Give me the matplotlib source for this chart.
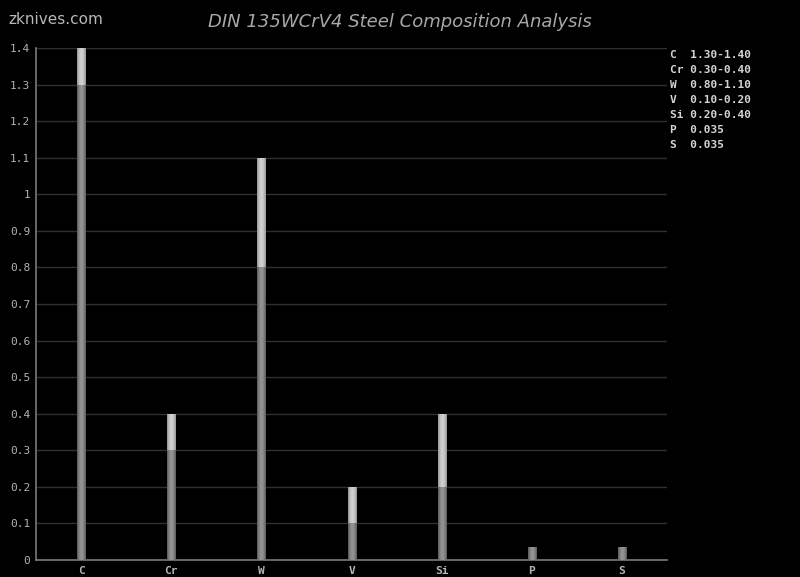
import matplotlib
matplotlib.use("Agg")
import matplotlib.pyplot as plt
import numpy as np
from matplotlib.patches import Rectangle

elements = ["C", "Cr", "W", "V", "Si", "P", "S"]
min_pct = [1.30, 0.30, 0.80, 0.10, 0.20, None, None]
max_pct = [1.40, 0.40, 1.10, 0.20, 0.40, 0.035, 0.035]
range_text = ["1.30-1.40", "0.30-0.40", "0.80-1.10", "0.10-0.20",
              "0.20-0.40", "0.035", "0.035"]
yticks = [0, 0.1, 0.2, 0.3, 0.4, 0.5, 0.6, 0.7, 0.8, 0.9, 1, 1.1, 1.2, 1.3, 1.4]

MONO = "DejaVu Sans Mono"
GREY = "#b4b4b4"

# horizontal shading profile for the "cylinder" bars
prof = np.abs(np.linspace(-1, 1, 64))
shade = (1 - prof ** 2)[None, :]


def grad_bar(ax, x0, y0, w, h, lo, hi):
    """Bar filled with a grey left-right gradient from lo (edge) to hi (center)."""
    img = np.empty((1, 64, 3))
    for i in range(3):
        img[..., i] = lo + (hi - lo) * shade
    rect = Rectangle((x0, y0), w, h, facecolor="none", edgecolor="none")
    ax.add_patch(rect)
    im = ax.imshow(img, extent=(x0, x0 + w, y0, y0 + h), aspect="auto",
                   interpolation="bicubic", zorder=3)
    im.set_clip_path(rect)


fig = plt.figure(figsize=(8, 5.77), dpi=100, facecolor="black")
ax = fig.add_axes([0.045, 0.0295, 0.789, 0.8873], facecolor="black")

width = 0.09
for i, (lo, hi) in enumerate(zip(min_pct, max_pct)):
    x0 = i + 0.5 - width / 2
    if lo is None:
        grad_bar(ax, x0, 0, width, hi, 0.33, 0.58)
    else:
        grad_bar(ax, x0, 0, width, lo, 0.33, 0.58)
        grad_bar(ax, x0, lo, width, hi - lo, 0.56, 0.82)

ax.set_xlim(0, len(elements))
ax.set_ylim(0, 1.4)
ax.set_xticks(np.arange(len(elements)) + 0.5)
ax.set_xticklabels(elements, family=MONO, fontsize=8, color=GREY,
                   fontweight="bold")
ax.set_yticks(yticks)
ax.set_yticklabels([f"{t:g}" for t in yticks], family=MONO, fontsize=8, color=GREY)
ax.tick_params(length=0, pad=4)
ax.grid(axis="y", color="#303030", linewidth=1)
ax.set_axisbelow(True)
for side in ("top", "right"):
    ax.spines[side].set_visible(False)
for side in ("left", "bottom"):
    ax.spines[side].set_color("#7a7a7a")
    ax.spines[side].set_linewidth(1.2)

fig.text(0.5, 0.962, "DIN 135WCrV4 Steel Composition Analysis", ha="center",
         va="center", fontsize=13, style="italic", color="#a8a8a8",
         family="DejaVu Sans")
fig.text(0.01, 0.966, "zknives.com", ha="left", va="center", fontsize=11,
         color="#b8b8b8", family="DejaVu Sans")

for k, (el, txt) in enumerate(zip(elements, range_text)):
    fig.text(0.838, 1 - (55 + 15 * k) / 577, f"{el:<3}{txt}", ha="left",
             va="center", fontsize=8, color="#d4d4d4", family=MONO,
             fontweight="bold")

fig.savefig("out.png", dpi=100, facecolor="black")
